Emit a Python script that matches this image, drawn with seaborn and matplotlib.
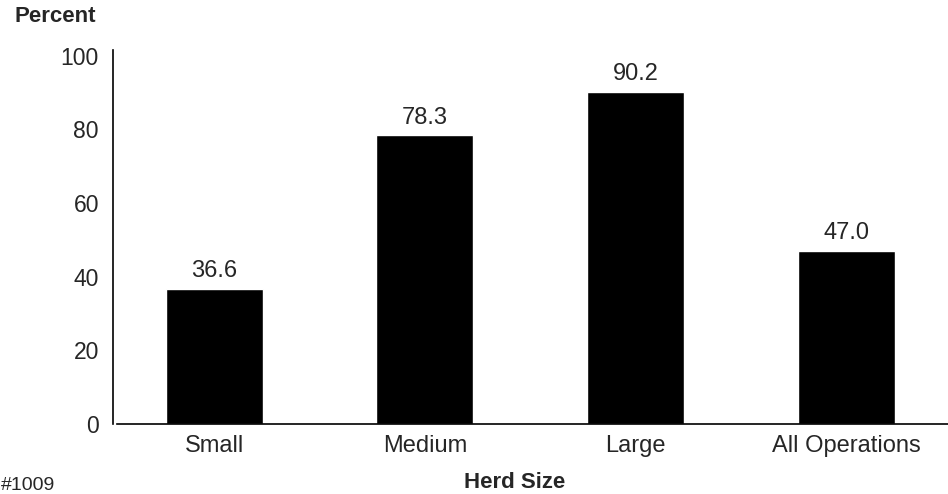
import matplotlib
matplotlib.use("Agg")
import matplotlib.pyplot as plt
import seaborn as sns

# data
herd_sizes = ["Small", "Medium", "Large", "All Operations"]
percents = [36.6, 78.3, 90.2, 47.0]
y_ticks = [0, 20, 40, 60, 80, 100]

sns.set_style("white")
plt.rcParams["font.family"] = ["Liberation Sans", "DejaVu Sans"]

fig = plt.figure(figsize=(9.48, 4.94), dpi=100)
ax = fig.add_axes([117 / 948, 1 - 424 / 494, 1 - 117 / 948, (424 - 50) / 494])

sns.barplot(x=herd_sizes, y=percents, color="black", saturation=1,
            width=0.46, ax=ax)

# value labels above the bars
ax.bar_label(ax.containers[0], labels=[f"{v:.1f}" for v in percents],
             padding=5, fontsize=17)

ax.set_xlim(-0.46, 3.48)
ax.set_ylim(0, 101.5)
ax.set_yticks(y_ticks)
ax.tick_params(axis="both", length=0)
ax.tick_params(axis="y", pad=10, labelsize=16.5)
ax.tick_params(axis="x", pad=8, labelsize=17)

# spines: only left and bottom, left pushed out a little
sns.despine(ax=ax, top=True, right=True)
ax.spines["left"].set_position(("outward", 3))
ax.spines["left"].set_color("black")
ax.spines["bottom"].set_color("black")
ax.spines["left"].set_linewidth(1.2)
ax.spines["bottom"].set_linewidth(1.2)

ax.set_xlabel("")
ax.set_ylabel("")

fig.text(15 / 948, 1 - 16 / 494, "Percent", fontsize=16, fontweight="bold",
         ha="left", va="center")
fig.text(515 / 948, 1 - 482 / 494, "Herd Size", fontsize=16,
         fontweight="bold", ha="center", va="center")
fig.text(1 / 948, 1 - 485 / 494, "#1009", fontsize=14, ha="left",
         va="center")

fig.savefig("out.png", dpi=100)
